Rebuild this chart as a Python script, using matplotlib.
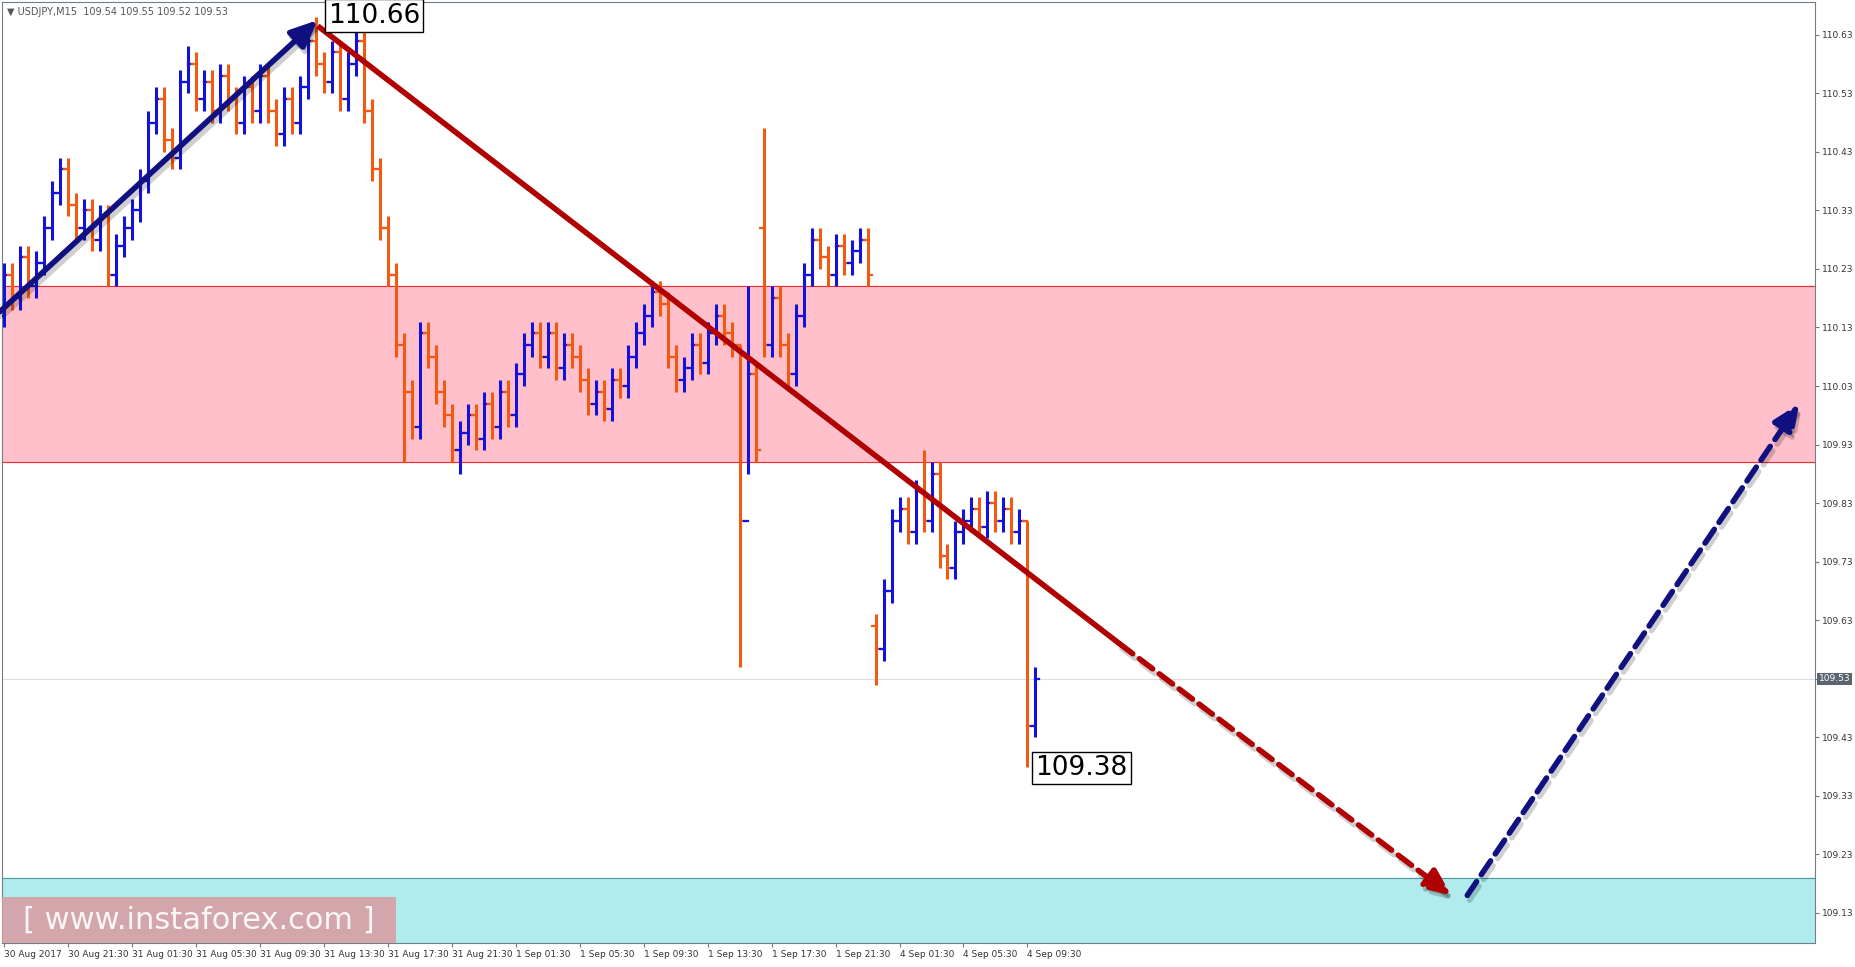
import matplotlib
matplotlib.use("Agg")
import matplotlib.pyplot as plt
from matplotlib.patches import Rectangle

closes = [110.22,110.18,110.25,110.20,110.24,
          110.30,110.36,110.40,110.34,
          110.30,110.33,110.28,110.32,110.22,
          110.27,110.30,110.33,110.38,110.48,
          110.52,110.45,110.42,110.55,110.58,
          110.52,110.55,110.50,110.56,110.52,110.48,110.54,110.50,110.56,
          110.50,110.46,110.52,110.48,110.54,
          110.62,110.58,110.55,110.60,110.52,110.58,110.62,
          110.50,110.40,110.30,110.22,
          110.10,110.02,109.96,110.12,110.08,110.02,109.98,109.92,109.95,
          109.98,109.94,110.00,109.96,110.02,109.98,
          110.05,110.10,110.12,110.08,110.12,110.06,110.10,110.08,110.04,
          110.00,110.02,109.99,110.04,110.03,110.08,
          110.12,110.15,110.19,110.17,
          110.08,110.04,110.06,110.10,110.07,110.12,
          110.15,110.12,110.10,
          109.80,110.05,109.92,
          110.10,
          110.18,110.10,110.05,110.15,110.22,
          110.28,110.25,110.22,110.27,110.24,110.26,110.28,110.22,
          109.58,109.68,109.80,
          109.82,109.78,109.85,109.80,109.88,
          109.74,109.72,109.78,
          109.80,109.82,109.79,109.83,109.80,109.82,109.78,109.80,
          109.45,109.53]
first_open = 110.15
# bars whose open differs from the previous close (gaps)
open_overrides = {190: 110.30, 218: 109.62}
# notable extremes: bar position -> (high, low)
spikes = {46: (110.61, None), 78: (110.66, None), 100: (None, 109.90), 114: (None, 109.88),
          184: (110.10, 109.55), 186: (110.20, 109.88), 190: (110.47, None),
          218: (None, 109.52), 230: (109.92, None), 256: (109.80, 109.38)}
xtick_labels = ["30 Aug 2017","30 Aug 21:30","31 Aug 01:30","31 Aug 05:30","31 Aug 09:30",
                "31 Aug 13:30","31 Aug 17:30","31 Aug 21:30","1 Sep 01:30","1 Sep 05:30",
                "1 Sep 09:30","1 Sep 13:30","1 Sep 17:30","1 Sep 21:30","4 Sep 01:30",
                "4 Sep 05:30","4 Sep 09:30"]
yticks = [110.63,110.53,110.43,110.33,110.23,110.13,110.03,109.93,109.83,109.73,109.63,109.43,109.33,109.23,109.13]
pink_zone = (109.90, 110.20)
cyan_zone = (109.00, 109.19)
current_price = 109.53

BLUE = "#1212d8"; ORANGE = "#f25a12"

fig = plt.figure(figsize=(18.56, 9.67), dpi=100)
ax = fig.add_axes([0.001, 0.025, 0.977, 0.973])
ax.set_xlim(-0.5, 453)
ax.set_ylim(109.079, 110.686)

ax.axhspan(*pink_zone, color="#ffc0cb", zorder=0)
ax.axhline(pink_zone[0], color="#e03030", lw=0.8, zorder=1)
ax.axhline(pink_zone[1], color="#e03030", lw=0.8, zorder=1)
ax.axhspan(*cyan_zone, color="#b0ecee", zorder=0)
ax.axhline(cyan_zone[1], color="#4a9aa0", lw=0.8, zorder=1)
ax.axhline(current_price, color="#dddddd", lw=0.8, zorder=1)

prev = first_open
for i, c in enumerate(closes):
    x = 2 * i
    o = open_overrides.get(x, prev)
    hi = max(o, c) + 0.02; lo = min(o, c) - 0.02
    if x in spikes:
        h2, l2 = spikes[x]
        if h2 is not None: hi = h2
        if l2 is not None: lo = l2
    col = BLUE if c >= o else ORANGE
    ax.plot([x, x], [lo, hi], color=col, lw=2.2, solid_capstyle="butt", zorder=3)
    ax.plot([x - 1, x], [o, o], color=col, lw=1.6, zorder=3)
    ax.plot([x, x + 1], [c, c], color=col, lw=1.6, zorder=3)
    prev = c

def arrow(x0, y0, x1, y1, col, ls):
    ax.annotate("", xy=(x1 + 0.6, y1 - 0.008), xytext=(x0 + 0.6, y0 - 0.008), zorder=4,
                arrowprops=dict(arrowstyle="-|>,head_length=1.6,head_width=0.7", color="#00000030",
                                lw=4, linestyle=ls, shrinkA=0, shrinkB=0))
    ax.annotate("", xy=(x1, y1), xytext=(x0, y0), zorder=5,
                arrowprops=dict(arrowstyle="-|>,head_length=1.6,head_width=0.7", color=col,
                                lw=4, linestyle=ls, shrinkA=0, shrinkB=0))

arrow(-1, 110.157, 78.5, 110.655, "#101080", "-")
ax.plot([78.5, 279], [110.645, 109.59], color="#b00000", lw=4, zorder=5, solid_capstyle="butt")
arrow(279, 109.59, 362, 109.16, "#b00000", (0, (3, 1.5)))
arrow(366, 109.16, 449, 110.0, "#101080", (0, (3, 1.5)))

ax.text(81, 110.685, "110.66", fontsize=19, va="top", ha="left", zorder=6,
        bbox=dict(boxstyle="square,pad=0.12", fc="white", ec="black", lw=1))
ax.text(258, 109.378, "109.38", fontsize=19, va="center", ha="left", zorder=6,
        bbox=dict(boxstyle="square,pad=0.12", fc="white", ec="black", lw=1))

ax.text(0.003, 0.995, "▼ USDJPY,M15  109.54 109.55 109.52 109.53", transform=ax.transAxes,
        fontsize=7, color="#555555", va="top", ha="left")

ax.add_patch(Rectangle((0, 0), 0.2175, 0.049, transform=ax.transAxes, fc="#d99aa0", ec="none", alpha=0.85, zorder=7))
ax.text(0.1087, 0.024, "[ www.instaforex.com ]", transform=ax.transAxes, fontsize=22,
        color="white", ha="center", va="center", zorder=8, alpha=0.9)

ax.set_xticks([16 * i for i in range(len(xtick_labels))])
ax.set_xticklabels(xtick_labels, fontsize=6.5, ha="left", color="#333333")
ax.yaxis.tick_right()
ax.set_yticks(yticks + [current_price])
ax.set_yticklabels([f"{v:.2f}" for v in yticks] + [""], fontsize=6.5, color="#333333")
ax.tick_params(length=3, color="#777777", pad=2)
ax.text(1.002, current_price, f"{current_price:.2f}", transform=ax.get_yaxis_transform(),
        fontsize=6.5, color="white", va="center", ha="left",
        bbox=dict(boxstyle="square,pad=0.15", fc="#5a6570", ec="none"))
for s in ax.spines.values():
    s.set_color("#6f7f8a")
fig.savefig("out.png", dpi=100)
